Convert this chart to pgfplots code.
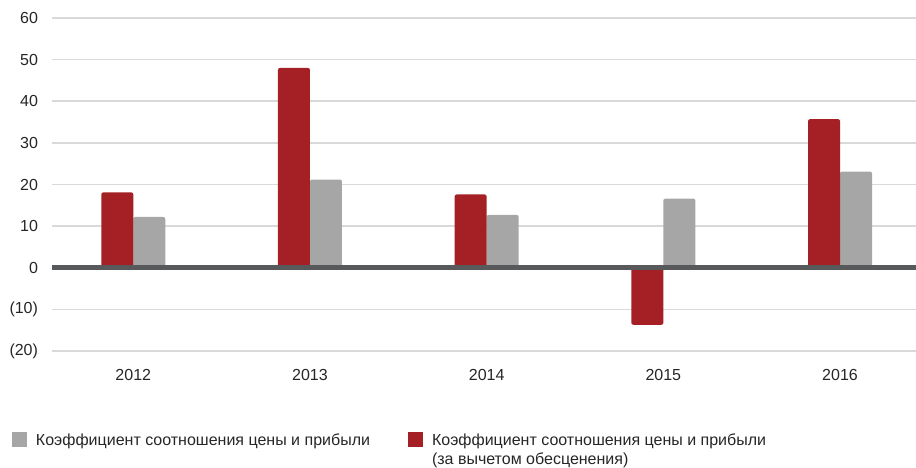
\documentclass[border=0pt]{standalone}
\usepackage{fontspec}
\setmainfont{Liberation Sans}
\usepackage{pgfplots}
\pgfplotsset{compat=1.18}
\definecolor{barred}{RGB}{165,32,36}
\definecolor{bargray}{RGB}{166,166,166}
\definecolor{gridgray}{RGB}{217,217,217}
\definecolor{zerogray}{RGB}{88,89,91}
\begin{document}
\begin{tikzpicture}
\useasboundingbox (-52pt,-117pt) rectangle (864pt,351pt);
\begin{axis}[
  at={(0,0)}, anchor=south west,
  scale only axis, width=864pt, height=333pt,
  xmin=-0.46, xmax=4.43, ymin=-20, ymax=60,
  ybar=0pt, bar width=32pt,
  xtick={0,1,2,3,4}, xticklabels={2012,2013,2014,2015,2016},
  ytick={-20,-10,0,10,20,30,40,50,60},
  yticklabels={(20),(10),0,10,20,30,40,50,60},
  ymajorgrids, grid style={gridgray, line width=1.5pt},
  axis line style={draw=none}, tick style={draw=none}, major tick length=0pt,
  tick label style={font=\fontsize{16}{19}\selectfont, text=black!85},
  yticklabel style={xshift=-10.5pt},
  xticklabel style={yshift=-15pt},
  legend columns=2,
  legend style={draw=none, fill=none, inner sep=0pt, outer sep=0pt,
    at={(0,0)}, anchor=north west, xshift=-40pt, yshift=-81pt,
    font=\fontsize{16}{18.5}\selectfont,
    nodes={inner sep=0pt, anchor=base west, text=black!85},
    /tikz/every odd column/.append style={column sep=9pt},
    /tikz/every even column/.append style={column sep=38pt}},
  legend image code/.code={\fill[sharp corners] (0pt,-1pt) rectangle (15pt,14pt);},
]
\addplot[fill=bargray, draw=none, rounded corners=2pt, bar shift=16pt]
  coordinates {(0,12.2) (1,21.2) (2,12.7) (3,16.6) (4,23.1)};
\addlegendentry{Коэффициент соотношения цены и прибыли}
\addplot[fill=barred, draw=none, rounded corners=2pt, bar shift=-16pt]
  coordinates {(0,18.1) (1,48.0) (2,17.6) (3,-13.7) (4,35.7)};
\addlegendentry{\parbox[t]{420pt}{Коэффициент соотношения цены и прибыли\\(за вычетом обесценения)}}
\draw[zerogray, line width=5pt] (axis cs:-0.46,0) -- (axis cs:4.43,0);
\end{axis}
\end{tikzpicture}
\end{document}
